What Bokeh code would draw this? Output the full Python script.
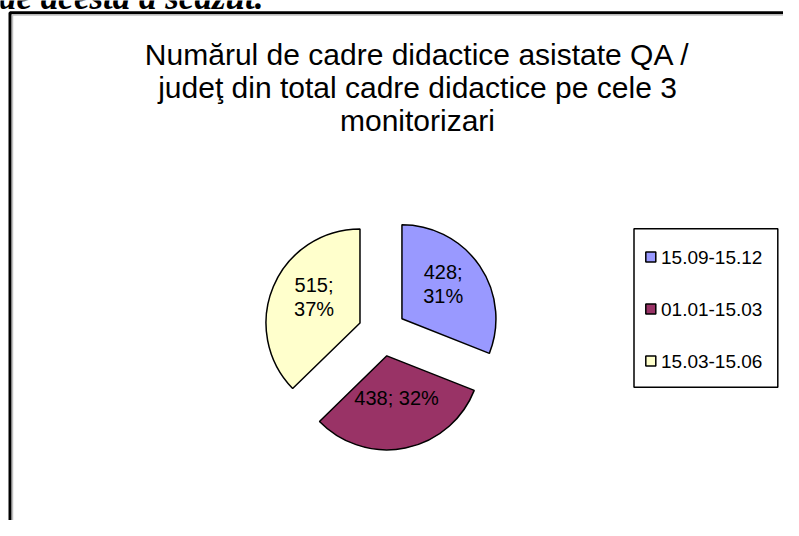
import math
from bokeh.plotting import figure
from bokeh.models import Range1d, ColumnDataSource
from bokeh.core.properties import value
from bokeh.embed import file_html
from bokeh.resources import INLINE

# ---- data ----
CATEGORIES = ["15.09-15.12", "01.01-15.03", "15.03-15.06"]
VALUES = [428, 438, 515]
COLORS = ["#9999FF", "#993366", "#FFFFCC"]
LABEL_SEPARATORS = ["\n", " ", "\n"]
TITLE_LINES = [
    "Numărul de cadre didactice asistate QA /",
    "judeţ din total cadre didactice pe cele 3",
    "monitorizari",
]
PAGE_TEXT = "de acesta a scazut."

W, H = 783, 520


def Y(y):
    return H - y


p = figure(width=W, height=H, x_range=Range1d(0, W), y_range=Range1d(0, H),
           output_backend="svg", toolbar_location=None, min_border=0)
p.xaxis.visible = False
p.yaxis.visible = False
p.xgrid.visible = False
p.ygrid.visible = False
p.outline_line_color = None
p.background_fill_color = "white"
p.border_fill_color = "white"

FONT = value("Liberation Sans")

# document text above the chart (cut off at the top, as in the source)
p.text(x=[263], y=[Y(-3.5)], text=[PAGE_TEXT], text_font=value("Liberation Serif"),
       text_font_style="bold italic", text_font_size="35px", text_align="right",
       text_baseline="middle", text_color="black")

# chart frame (continues past the right and bottom edges)
p.line(x=[9.5, 9.5, W + 10], y=[-10, Y(12.2), Y(12.2)], line_color="black", line_width=3)
p.line(x=[12.2, 12.2, W + 10], y=[-10, Y(14.6), Y(14.6)], line_color="#b0b0b0", line_width=1)

# title
title_y = [Y(54 + i * 33) for i in range(len(TITLE_LINES))]
p.text(x=[417] * len(TITLE_LINES), y=title_y, text=TITLE_LINES, text_font=FONT,
       text_font_size="30px", text_align="center", text_baseline="middle",
       text_color="black")

# pie
total = sum(VALUES)
cx, cy = 381.6, Y(331.8)
R = 94
explode = 24
label_lift = 7
starts, ends, xs, ys, lx, ly, labels = [], [], [], [], [], [], []
cum = 0.0
for v, sep in zip(VALUES, LABEL_SEPARATORS):
    f0 = cum / total
    cum += v
    f1 = cum / total
    a0 = 90 - f0 * 360
    a1 = 90 - f1 * 360
    mid = math.radians((a0 + a1) / 2)
    sx = cx + explode * math.cos(mid)
    sy = cy + explode * math.sin(mid)
    starts.append(a0)
    ends.append(a1)
    xs.append(sx)
    ys.append(sy)
    lx.append(sx + 0.53 * R * math.cos(mid))
    ly.append(sy + 0.53 * R * math.sin(mid) + label_lift)
    labels.append(f"{v};{sep}{round(v / total * 100)}%")

src = ColumnDataSource(dict(x=xs, y=ys, start=starts, end=ends, color=COLORS,
                            lx=lx, ly=ly, label=labels))
p.wedge(x="x", y="y", radius=R, start_angle="start", end_angle="end",
        start_angle_units="deg", end_angle_units="deg", direction="clock",
        fill_color="color", line_color="black", line_width=1.5, source=src)
p.text(x="lx", y="ly", text="label", text_font=FONT, text_font_size="20px",
       text_align="center", text_baseline="middle", text_line_height=1.1,
       text_color="black", source=src)

# legend
p.quad(left=[633.5], right=[777.3], top=[Y(228.3)], bottom=[Y(386.7)],
       fill_color="white", line_color="black", line_width=1.5)
ley = [Y(256.5 + i * 52) for i in range(len(CATEGORIES))]
p.rect(x=[650.3] * len(CATEGORIES), y=ley, width=10, height=10,
       fill_color=COLORS, line_color="black", line_width=1.5)
p.text(x=[660.5] * len(CATEGORIES), y=ley, text=CATEGORIES, text_font=FONT,
       text_font_size="19px", text_align="left", text_baseline="middle",
       text_color="black")

open("out.html", "w").write(file_html(p, INLINE))
